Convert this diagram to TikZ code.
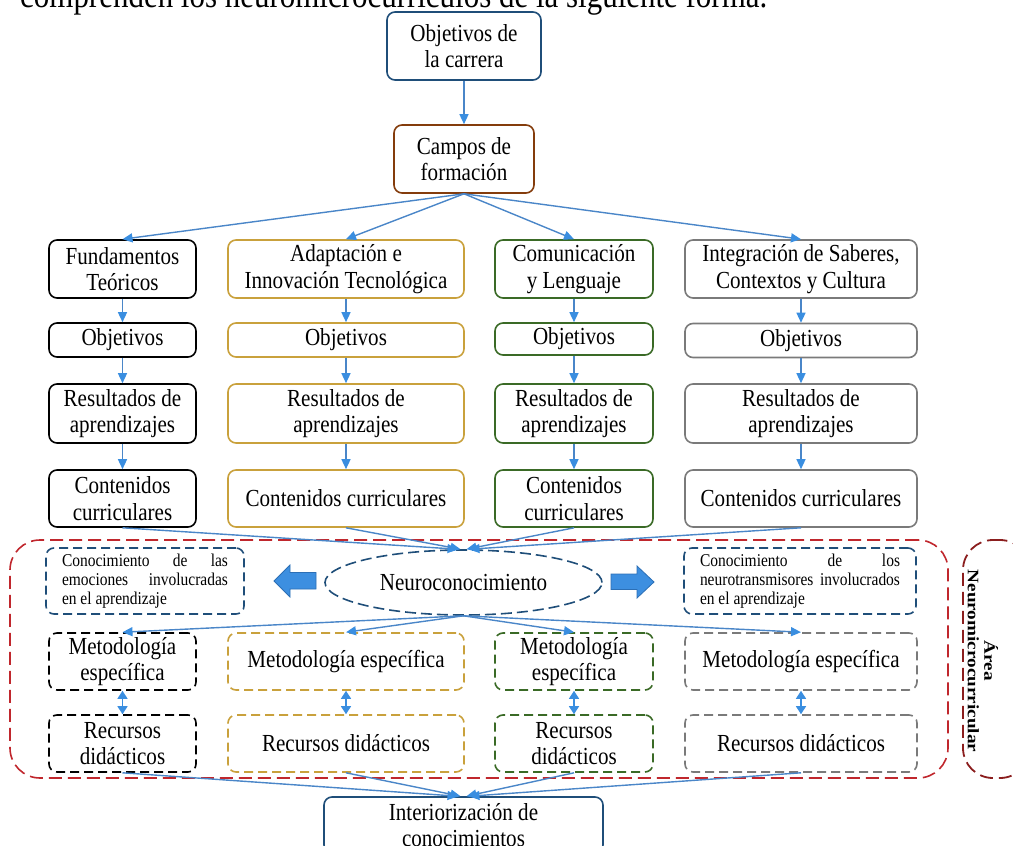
\documentclass[tikz,border=0pt]{standalone}
\usepackage{fontspec}
\setmainfont{Liberation Serif}[FakeStretch=0.86]
\newfontfamily\vfont{Liberation Serif}[FakeStretch=1.2]
\usetikzlibrary{arrows.meta,shapes.geometric}
\definecolor{cblue}{HTML}{1F4E79}
\definecolor{cbrown}{HTML}{843C0C}
\definecolor{cgold}{HTML}{C9A13C}
\definecolor{cgreen}{HTML}{3A6A26}
\definecolor{cgray}{HTML}{7A7A7A}
\definecolor{cred}{HTML}{C0272D}
\definecolor{cdred}{HTML}{8B1E1E}
\definecolor{cline}{HTML}{4A86C8}
\definecolor{chead}{HTML}{3A8EE0}
\definecolor{cbig}{HTML}{3D8FE0}
\definecolor{cbigb}{HTML}{2C6FB5}
\tikzset{
  box/.style={draw, rounded corners=8pt, line width=1.6pt, fill=white},
  dbox/.style={box, dash pattern=on 9pt off 5pt},
  wA/.style={minimum width=147pt}, wB/.style={minimum width=236pt},
  wC/.style={minimum width=158pt}, wD/.style={minimum width=232pt},
  kA/.style={draw=black}, kB/.style={draw=cgold}, kC/.style={draw=cgreen}, kD/.style={draw=cgray},
  arr/.style={draw=cline, line width=1.4pt, -{Triangle[length=10pt,width=9pt,color=chead]}},
  darr/.style={draw=chead, line width=1.4pt, {Triangle[length=8pt,width=10pt]}-{Triangle[length=8pt,width=10pt]}},
  bigarrow/.style={fill=cbig, draw=cbigb, line width=0.8pt},
}
\begin{document}
\begin{tikzpicture}[x=1pt,y=-1pt,
  every node/.style={font=\fontsize{24.5}{26.5}\selectfont, align=center, inner sep=0pt}]
\useasboundingbox (0,0) rectangle (1013,846);

\node[anchor=base west, font=\fontsize{36}{40}\selectfont] (intro) at (20,7) {comprenden los neuromicrocurrículos de la siguiente forma.};

% area boxes
\node[draw=cred, line width=1.6pt, dash pattern=on 13pt off 6pt, rounded corners=30pt,
      minimum width=938pt, minimum height=238pt] (area) at (479,659) {};
\node[draw=cdred, line width=1.8pt, dash pattern=on 13pt off 6pt, rounded corners=30pt,
      minimum width=67pt, minimum height=238pt] (lab) at (996.5,659) {};
\node[rotate=-90, font=\vfont\bfseries\fontsize{16}{16.5}\selectfont] (labtext) at (983,661) {Área\\Neuromicrocurricular};

% top
\node[box, draw=cblue, minimum width=154pt, minimum height=68pt] (obj) at (464,46) {Objetivos de\\la carrera};
\node[box, draw=cbrown, minimum width=140pt, minimum height=68pt] (campos) at (464,159) {Campos de\\formación};

% row 1
\node[box,kA,wA,minimum height=58pt] (fA) at (122.5,269) {Fundamentos\\Teóricos};
\node[box,kB,wB,minimum height=58pt] (fB) at (346,269) {Adaptación e\\Innovación Tecnológica};
\node[box,kC,wC,minimum height=58pt] (fC) at (574,269) {Comunicación\\y Lenguaje};
\node[box,kD,wD,minimum height=58pt] (fD) at (801,269) {Integración de Saberes,\\Contextos y Cultura};
% row 2
\node[box,kA,wA,minimum height=34pt] (oA) at (122.5,340) {Objetivos};
\node[box,kB,wB,minimum height=34pt] (oB) at (346,340) {Objetivos};
\node[box,kC,wC,minimum height=32pt] (oC) at (574,339) {Objetivos};
\node[box,kD,wD,minimum height=34pt] (oD) at (801,340.5) {Objetivos};
% row 3
\node[box,kA,wA,minimum height=59pt] (sA) at (122.5,413.5) {Resultados de\\aprendizajes};
\node[box,kB,wB,minimum height=59pt] (sB) at (346,413.5) {Resultados de\\aprendizajes};
\node[box,kC,wC,minimum height=59pt] (sC) at (574,413.5) {Resultados de\\aprendizajes};
\node[box,kD,wD,minimum height=59pt] (sD) at (801,413.5) {Resultados de\\aprendizajes};
% row 4
\node[box,kA,wA,minimum height=57pt] (cA) at (122.5,498.5) {Contenidos\\curriculares};
\node[box,kB,wB,minimum height=57pt] (cB) at (346,498.5) {Contenidos curriculares};
\node[box,kC,wC,minimum height=57pt] (cC) at (574,498.5) {Contenidos\\curriculares};
\node[box,kD,wD,minimum height=57pt] (cD) at (801,498.5) {Contenidos curriculares};

% neuro row
\node[ellipse, draw=cblue, fill=white, line width=1.6pt, dash pattern=on 11pt off 5pt,
      minimum width=277pt, minimum height=65pt] (neuro) at (463.5,582.5) {Neuroconocimiento};
\node[dbox, draw=cblue, minimum width=198pt, minimum height=66pt,
      font=\fontsize{18}{18.7}\selectfont] (emo) at (145,581)
  {\hbox to 166pt{Conocimiento\hfill de\hfill las}\\
   \hbox to 166pt{emociones\hfill involucradas}\\
   \hbox to 166pt{en el aprendizaje\hfill}};
\node[dbox, draw=cblue, minimum width=232pt, minimum height=66pt,
      font=\fontsize{18}{18.7}\selectfont] (neur) at (800,581)
  {\hbox to 200pt{Conocimiento\hfill de\hfill los}\\
   \hbox to 200pt{neurotransmisores\hfill involucrados}\\
   \hbox to 200pt{en el aprendizaje\hfill}};
\path[bigarrow] (274,581) -- (290,565) -- (290,572.5) -- (316,572.5) -- (316,589) -- (290,589) -- (290,597) -- cycle;
\path[bigarrow] (654,582) -- (637,566) -- (637,574) -- (611,574) -- (611,589.5) -- (637,589.5) -- (637,598) -- cycle;

% row 5
\node[dbox,kA,wA,minimum height=57pt] (mA) at (122.5,661.5) {Metodología\\específica};
\node[dbox,kB,wB,minimum height=57pt] (mB) at (346,661.5) {Metodología específica};
\node[dbox,kC,wC,minimum height=57pt] (mC) at (574,661.5) {Metodología\\específica};
\node[dbox,kD,wD,minimum height=57pt] (mD) at (801,661.5) {Metodología específica};
% row 6
\node[dbox,kA,wA,minimum height=57pt] (rA) at (122.5,743.5) {Recursos\\didácticos};
\node[dbox,kB,wB,minimum height=57pt] (rB) at (346,743.5) {Recursos didácticos};
\node[dbox,kC,wC,minimum height=57pt] (rC) at (574,743.5) {Recursos\\didácticos};
\node[dbox,kD,wD,minimum height=57pt] (rD) at (801,743.5) {Recursos didácticos};

\node[box, draw=cblue, minimum width=279pt, minimum height=56pt] (inter) at (463.5,825) {Interiorización de\\conocimientos};

% connectors
\draw[arr] (obj.south) -- (campos.north);
\foreach \c in {A,B,C,D}{
  \draw[arr] (campos.south) -- (f\c.north);
  \draw[arr] (f\c.south) -- (o\c.north);
  \draw[arr] (o\c.south) -- (s\c.north);
  \draw[arr] (s\c.south) -- (c\c.north);
  \draw[arr] (neuro.south) -- (m\c.north);
  \draw[darr] (m\c.south) -- (r\c.north);
}
\draw[arr] (cA.south) -- ([xshift=-6pt]neuro.north);
\draw[arr] (cB.south) -- ([xshift=-3pt]neuro.north);
\draw[arr] (cC.south) -- ([xshift=3pt]neuro.north);
\draw[arr] (cD.south) -- ([xshift=6pt]neuro.north);
\draw[arr] (rA.south) -- ([xshift=-6pt]inter.north);
\draw[arr] (rB.south) -- ([xshift=-3pt]inter.north);
\draw[arr] (rC.south) -- ([xshift=3pt]inter.north);
\draw[arr] (rD.south) -- ([xshift=6pt]inter.north);
\end{tikzpicture}
\end{document}
